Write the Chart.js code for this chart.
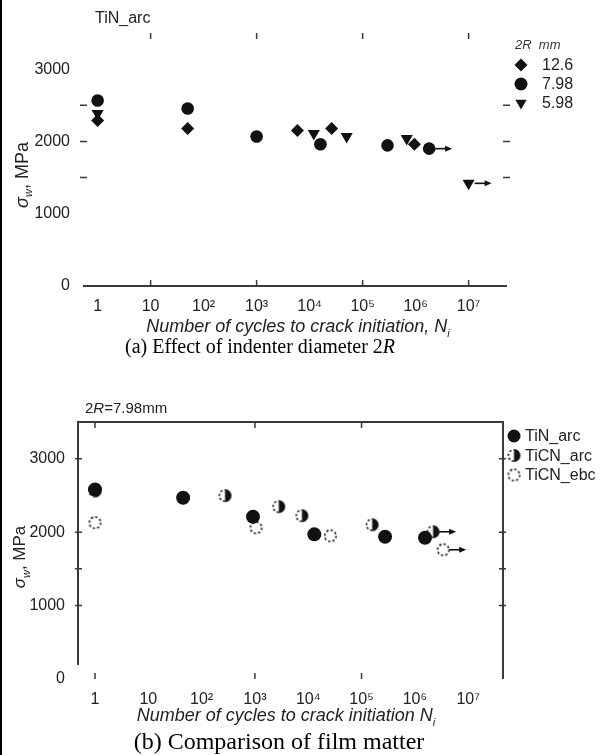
<!DOCTYPE html>
<html>
<head>
<meta charset="utf-8">
<script src="https://cdn.jsdelivr.net/npm/chart.js@4.4.0/dist/chart.umd.min.js"></script>
<style>
body { margin: 0; background: #fff; }
#page { position: relative; width: 615px; height: 755px; overflow: hidden; background: #fff; font-family: 'Liberation Sans', Arial, sans-serif; color: #222; }
#edge { position: absolute; left: 0; top: 0; width: 2px; height: 755px; background: #000; }
canvas { position: absolute; left: 0; }
.txt { position: absolute; white-space: nowrap; }
.cap { font-family: 'Liberation Serif', 'Times New Roman', serif; color: #000; transform: translateX(-50%); }
.xt { font-style: italic; transform: translateX(-50%); }
.yt { transform: translate(-50%, -50%) rotate(-90deg); }
</style>
</head>
<body>
<div id="page">
  <div id="edge"></div>
  <canvas id="chartA" width="615" height="320" style="top:0"></canvas>
  <canvas id="chartB" width="615" height="330" style="top:380px"></canvas>

  <div class="txt" style="left:95px; top:9px; font-size:16px;">TiN_arc</div>
  <div class="txt yt" style="left:23px; top:175px; font-size:18px;"><i>σ</i><sub style="font-size:11px"><i>w</i></sub>, MPa</div>
  <div class="txt xt" style="left:298px; top:316px; font-size:18px;">Number of cycles to crack initiation, <i>N</i><sub style="font-size:11px">i</sub></div>
  <div class="txt cap" style="left:260px; top:335px; font-size:20px;">(a) Effect of indenter diameter 2<i>R</i></div>

  <div class="txt" style="left:85px; top:399px; font-size:15px;">2<i>R</i>=7.98mm</div>
  <div class="txt yt" style="left:21px; top:557px; font-size:17px;"><i>σ</i><sub style="font-size:11px"><i>w</i></sub>, MPa</div>
  <div class="txt xt" style="left:286px; top:705px; font-size:18px;">Number of cycles to crack initiation <i>N</i><sub style="font-size:11px">i</sub></div>
  <div class="txt cap" style="left:279px; top:728px; font-size:24px;">(b) Comparison of film matter</div>
</div>

<script>
// Ticks shared by both panels
const xTickVals = [1, 10, 100, 1e3, 1e4, 1e5, 1e6, 1e7];
const xTickLabels = ['1', '10', '10²', '10³', '10⁴', '10⁵', '10⁶', '10⁷'];
const yTickVals = [0, 1000, 2000, 3000];

// (a) TiN_arc, indenter diameter 2R (mm)
const legendA = ['12.6', '7.98', '5.98'];
const nA126 = [1, 50, 5900, 26000, 950000];
const sA126 = [2290, 2180, 2150, 2180, 1960];
const nA798 = [1, 50, 1000, 16000, 295000, 1800000];
const sA798 = [2566, 2455, 2069, 1960, 1945, 1900];
const nA598 = [1, 12000, 50000, 680000, 10000000];
const sA598 = [2386, 2110, 2069, 2040, 1420];
// run-out points (arrow to the right)
const runA_N = [1800000, 10000000];
const runA_S = [1900, 1420];

// (b) film comparison, 2R = 7.98 mm
const legendB = ['TiN_arc', 'TiCN_arc', 'TiCN_ebc'];
const nB_tin = [1, 45, 920, 13000, 276000, 1550000];
const sB_tin = [2580, 2469, 2210, 1970, 1937, 1924];
const nB_ticnArc = [1, 275, 2800, 7600, 158000, 2200000];
const sB_ticnArc = [2560, 2497, 2347, 2224, 2100, 2005];
const nB_ticnEbc = [1, 1050, 26000, 3400000];
const sB_ticnEbc = [2128, 2060, 1950, 1760];
const runB_N = [2200000, 3400000];
const runB_S = [2005, 1760];

const INK = '#111';
const AXIS = '#3a3a3a';

function pts(n, s) {
  return n.map((v, i) => ({ x: v, y: s[i] }));
}

// half filled circle (right half black, left half dashed)
function halfCircle(r) {
  const c = document.createElement('canvas');
  const sz = 2 * r + 4;
  c.width = sz; c.height = sz;
  const g = c.getContext('2d');
  g.fillStyle = INK;
  g.beginPath();
  g.arc(sz / 2, sz / 2, r, -Math.PI / 2, Math.PI / 2);
  g.closePath();
  g.fill();
  g.strokeStyle = INK;
  g.lineWidth = 1.6;
  g.setLineDash([2.2, 2]);
  g.beginPath();
  g.arc(sz / 2, sz / 2, r - 0.8, Math.PI / 2, Math.PI * 1.5);
  g.stroke();
  return c;
}

// open dashed circle
function dashCircle(r) {
  const c = document.createElement('canvas');
  const sz = 2 * r + 4;
  c.width = sz; c.height = sz;
  const g = c.getContext('2d');
  g.strokeStyle = INK;
  g.lineWidth = 1.6;
  g.setLineDash([2.2, 2.2]);
  g.beginPath();
  g.arc(sz / 2, sz / 2, r - 0.8, 0, Math.PI * 2);
  g.stroke();
  return c;
}

const halfImg = halfCircle(6.5);
const dashImg = dashCircle(6.5);

// axis lines and small tick marks drawn by hand through the scales
const framePlugin = {
  id: 'frame',
  afterDatasetsDraw(chart, args, o) {
    const { ctx, chartArea: a, scales: { x, y } } = chart;
    ctx.save();
    ctx.strokeStyle = AXIS;
    ctx.lineWidth = 2;
    ctx.beginPath();
    if (o.sides.includes('bottom')) { ctx.moveTo(a.left, a.bottom); ctx.lineTo(a.right, a.bottom); }
    if (o.sides.includes('top')) { ctx.moveTo(a.left - 1, a.top); ctx.lineTo(a.right + 1, a.top); }
    if (o.sides.includes('left')) { ctx.moveTo(a.left, a.top); ctx.lineTo(a.left, a.bottom - 14); }
    if (o.sides.includes('right')) { ctx.moveTo(a.right, a.top); ctx.lineTo(a.right, a.bottom); }
    ctx.stroke();

    ctx.lineWidth = 1.5;
    ctx.beginPath();
    o.xTop.forEach(v => { const px = x.getPixelForValue(v); ctx.moveTo(px, a.top); ctx.lineTo(px, a.top + 6); });
    o.xBottom.forEach(v => { const px = x.getPixelForValue(v); ctx.moveTo(px, a.bottom); ctx.lineTo(px, a.bottom - 6); });
    o.yLeft.forEach(v => { const py = y.getPixelForValue(v); ctx.moveTo(a.left - 3, py); ctx.lineTo(a.left + 4, py); });
    o.yRight.forEach(v => { const py = y.getPixelForValue(v); ctx.moveTo(a.right - 4, py); ctx.lineTo(a.right + 3, py); });
    ctx.stroke();
    ctx.restore();
  }
};

// run-out arrows
const arrowPlugin = {
  id: 'runout',
  afterDatasetsDraw(chart, args, o) {
    const { ctx, scales: { x, y } } = chart;
    ctx.save();
    ctx.strokeStyle = INK;
    ctx.fillStyle = INK;
    ctx.lineWidth = 1.6;
    o.n.forEach((v, i) => {
      const px = x.getPixelForValue(v);
      const py = y.getPixelForValue(o.s[i]);
      ctx.beginPath();
      ctx.moveTo(px + 6, py);
      ctx.lineTo(px + 20, py);
      ctx.stroke();
      ctx.beginPath();
      ctx.moveTo(px + 23, py);
      ctx.lineTo(px + 16, py - 3);
      ctx.lineTo(px + 16, py + 3);
      ctx.closePath();
      ctx.fill();
    });
    ctx.restore();
  }
};

// legend drawn with the dataset point styles
const keyPlugin = {
  id: 'key',
  afterDraw(chart, args, o) {
    const ctx = chart.ctx;
    ctx.save();
    if (o.title) {
      ctx.font = 'italic 13px "Liberation Sans", Arial';
      ctx.fillStyle = '#333';
      ctx.textBaseline = 'middle';
      ctx.fillText(o.title, o.x - 6, o.y0 - 20);
    }
    chart.data.datasets.forEach((ds, i) => {
      const yy = o.y0 + i * o.step;
      ctx.fillStyle = INK;
      Chart.helpers.drawPoint(ctx, { pointStyle: ds.pointStyle, rotation: ds.rotation || 0, radius: o.r, borderWidth: 0 }, o.x, yy);
      ctx.font = o.font;
      ctx.fillStyle = '#222';
      ctx.textBaseline = 'middle';
      ctx.fillText(ds.label, o.x + o.gap, yy + 1);
    });
    ctx.restore();
  }
};

function baseOptions(xmin, xmax, yWidth, xHeight, pad, fontSize) {
  return {
    responsive: false,
    animation: false,
    devicePixelRatio: 1,
    layout: { padding: pad },
    plugins: { legend: { display: false }, tooltip: { enabled: false } },
    scales: {
      x: {
        type: 'logarithmic',
        min: xmin,
        max: xmax,
        grid: { display: false },
        border: { display: false },
        afterBuildTicks: s => { s.ticks = xTickVals.map(v => ({ value: v })); },
        afterFit: s => { s.height = xHeight; },
        ticks: {
          autoSkip: false,
          maxRotation: 0,
          padding: 3,
          color: '#222',
          font: { family: '"Liberation Sans", Arial', size: fontSize },
          callback: v => xTickLabels[xTickVals.indexOf(v)]
        }
      },
      y: {
        min: 0,
        max: 3500,
        grid: { display: false },
        border: { display: false },
        afterBuildTicks: s => { s.ticks = yTickVals.map(v => ({ value: v })); },
        afterFit: s => { s.width = yWidth; },
        ticks: {
          padding: 5,
          color: '#222',
          font: { family: '"Liberation Sans", Arial', size: fontSize },
          callback: v => String(v)
        }
      }
    }
  };
}

// (a)
const optsA = baseOptions(0.53, 5.3e7, 83, 34, { top: 33, right: 108, left: 0, bottom: 0 }, 16);
optsA.plugins.frame = { sides: ['bottom'], xTop: [10, 1e3, 1e5, 1e7], xBottom: [10, 1e3, 1e5, 1e7], yLeft: [1500, 2000, 2500], yRight: [1500, 2000, 2500] };
optsA.plugins.runout = { n: runA_N, s: runA_S };
optsA.plugins.key = { title: '2R  mm', x: 521, y0: 65, step: 19, r: 6.5, gap: 21, font: '16px "Liberation Sans", Arial' };

new Chart(document.getElementById('chartA'), {
  type: 'scatter',
  data: {
    datasets: [
      { label: legendA[0], data: pts(nA126, sA126), pointStyle: 'rectRot', pointRadius: 6.5, backgroundColor: INK, borderWidth: 0 },
      { label: legendA[1], data: pts(nA798, sA798), pointStyle: 'circle', pointRadius: 6.3, backgroundColor: INK, borderWidth: 0 },
      { label: legendA[2], data: pts(nA598, sA598), pointStyle: 'triangle', rotation: 180, pointRotation: 180, pointRadius: 7, backgroundColor: INK, borderWidth: 0 }
    ]
  },
  options: optsA,
  plugins: [framePlugin, arrowPlugin, keyPlugin]
});

// (b)
const optsB = baseOptions(0.48, 4.5e7, 78, 31, { top: 42, right: 112, left: 0, bottom: 0 }, 16);
optsB.plugins.frame = { sides: ['top', 'left', 'right'], xTop: [1, 1e3, 1e5], xBottom: [1, 1e3, 1e5], yLeft: [1000, 1500, 2000, 3000], yRight: [1000, 1500, 2000, 3000] };
optsB.plugins.runout = { n: runB_N, s: runB_S };
optsB.plugins.key = { title: '', x: 514, y0: 56, step: 19.5, r: 6.5, gap: 11, font: '16px "Liberation Sans", Arial' };

new Chart(document.getElementById('chartB'), {
  type: 'scatter',
  data: {
    datasets: [
      { label: legendB[0], data: pts(nB_tin, sB_tin), pointStyle: 'circle', pointRadius: 7, backgroundColor: INK, borderWidth: 0 },
      { label: legendB[1], data: pts(nB_ticnArc, sB_ticnArc), pointStyle: halfImg, pointRadius: 6.5, backgroundColor: INK, borderWidth: 0 },
      { label: legendB[2], data: pts(nB_ticnEbc, sB_ticnEbc), pointStyle: dashImg, pointRadius: 6.5, backgroundColor: INK, borderWidth: 0 }
    ]
  },
  options: optsB,
  plugins: [framePlugin, arrowPlugin, keyPlugin]
});
</script>
</body>
</html>
